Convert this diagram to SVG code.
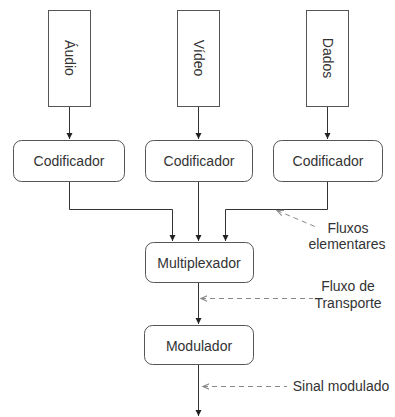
<svg xmlns="http://www.w3.org/2000/svg" width="395" height="417" viewBox="0 0 395 417">
<defs>
<style>
.box{fill:#fff;stroke:#555;stroke-width:1}
.t{font-family:"Liberation Sans",Arial,sans-serif;font-size:14px;fill:#333;text-anchor:middle}
.ln{fill:none;stroke:#333;stroke-width:1}
.dash{fill:none;stroke:#888;stroke-width:1;stroke-dasharray:5,4}
</style>
<marker id="ah" viewBox="0 0 10 10" refX="10" refY="5" markerWidth="6" markerHeight="9" orient="auto" markerUnits="userSpaceOnUse">
<path d="M0,0 L10,5 L0,10 z" fill="#222"/>
</marker>
<marker id="oh" viewBox="0 0 10 10" refX="1" refY="5" markerWidth="7" markerHeight="7" orient="auto" markerUnits="userSpaceOnUse">
<path d="M10,1 L1,5 L10,9" fill="none" stroke="#888" stroke-width="1.5"/>
</marker>
</defs>
<rect width="395" height="417" fill="#fff"/>
<g id="connectors">
<line class="ln" x1="69.5" y1="107" x2="69.5" y2="139" marker-end="url(#ah)"/>
<line class="ln" x1="198.5" y1="107" x2="198.5" y2="139" marker-end="url(#ah)"/>
<line class="ln" x1="327.5" y1="107" x2="327.5" y2="139" marker-end="url(#ah)"/>
<polyline class="ln" points="69.5,182 69.5,209.5 172.5,209.5 172.5,241" marker-end="url(#ah)"/>
<line class="ln" x1="198.5" y1="182" x2="198.5" y2="241" marker-end="url(#ah)"/>
<polyline class="ln" points="327.5,182 327.5,209.5 225.5,209.5 225.5,241" marker-end="url(#ah)"/>
<line class="ln" x1="198.5" y1="283" x2="198.5" y2="324" marker-end="url(#ah)"/>
<line class="ln" x1="198.5" y1="365" x2="198.5" y2="416" marker-end="url(#ah)"/>
<line class="dash" x1="277" y1="210.5" x2="316" y2="227" marker-start="url(#oh)"/>
<line class="dash" x1="201" y1="298.5" x2="313" y2="298.5" marker-start="url(#oh)"/>
<line class="dash" x1="203" y1="386.5" x2="287" y2="386.5" marker-start="url(#oh)"/>
</g>
<g id="audio"><rect class="box" x="48.5" y="10.5" width="42" height="96"/><text class="t" transform="translate(69.5,58) rotate(90)" y="5">Áudio</text></g>
<g id="video"><rect class="box" x="177.5" y="10.5" width="42" height="96"/><text class="t" transform="translate(198.5,58) rotate(90)" y="5">Vídeo</text></g>
<g id="dados"><rect class="box" x="306.5" y="10.5" width="42" height="96"/><text class="t" transform="translate(327.5,58) rotate(90)" y="5">Dados</text></g>
<g id="cod1"><rect class="box" x="13.5" y="140.5" width="111" height="41" rx="8"/><text class="t" x="69" y="166">Codificador</text></g>
<g id="cod2"><rect class="box" x="145.5" y="140.5" width="107" height="41" rx="8"/><text class="t" x="199" y="166">Codificador</text></g>
<g id="cod3"><rect class="box" x="273.5" y="140.5" width="109" height="41" rx="8"/><text class="t" x="328" y="166">Codificador</text></g>
<g id="mux"><rect class="box" x="145.5" y="242.5" width="108" height="40" rx="8"/><text class="t" x="199" y="268">Multiplexador</text></g>
<g id="mod"><rect class="box" x="144.5" y="325.5" width="109" height="39" rx="8"/><text class="t" x="199" y="351">Modulador</text></g>
<g id="labels">
<text class="t" x="348" y="233">Fluxos</text>
<text class="t" x="347" y="249">elementares</text>
<text class="t" x="348" y="291">Fluxo de</text>
<text class="t" x="348" y="308">Transporte</text>
<text class="t" x="341" y="391">Sinal modulado</text>
</g>
</svg>
